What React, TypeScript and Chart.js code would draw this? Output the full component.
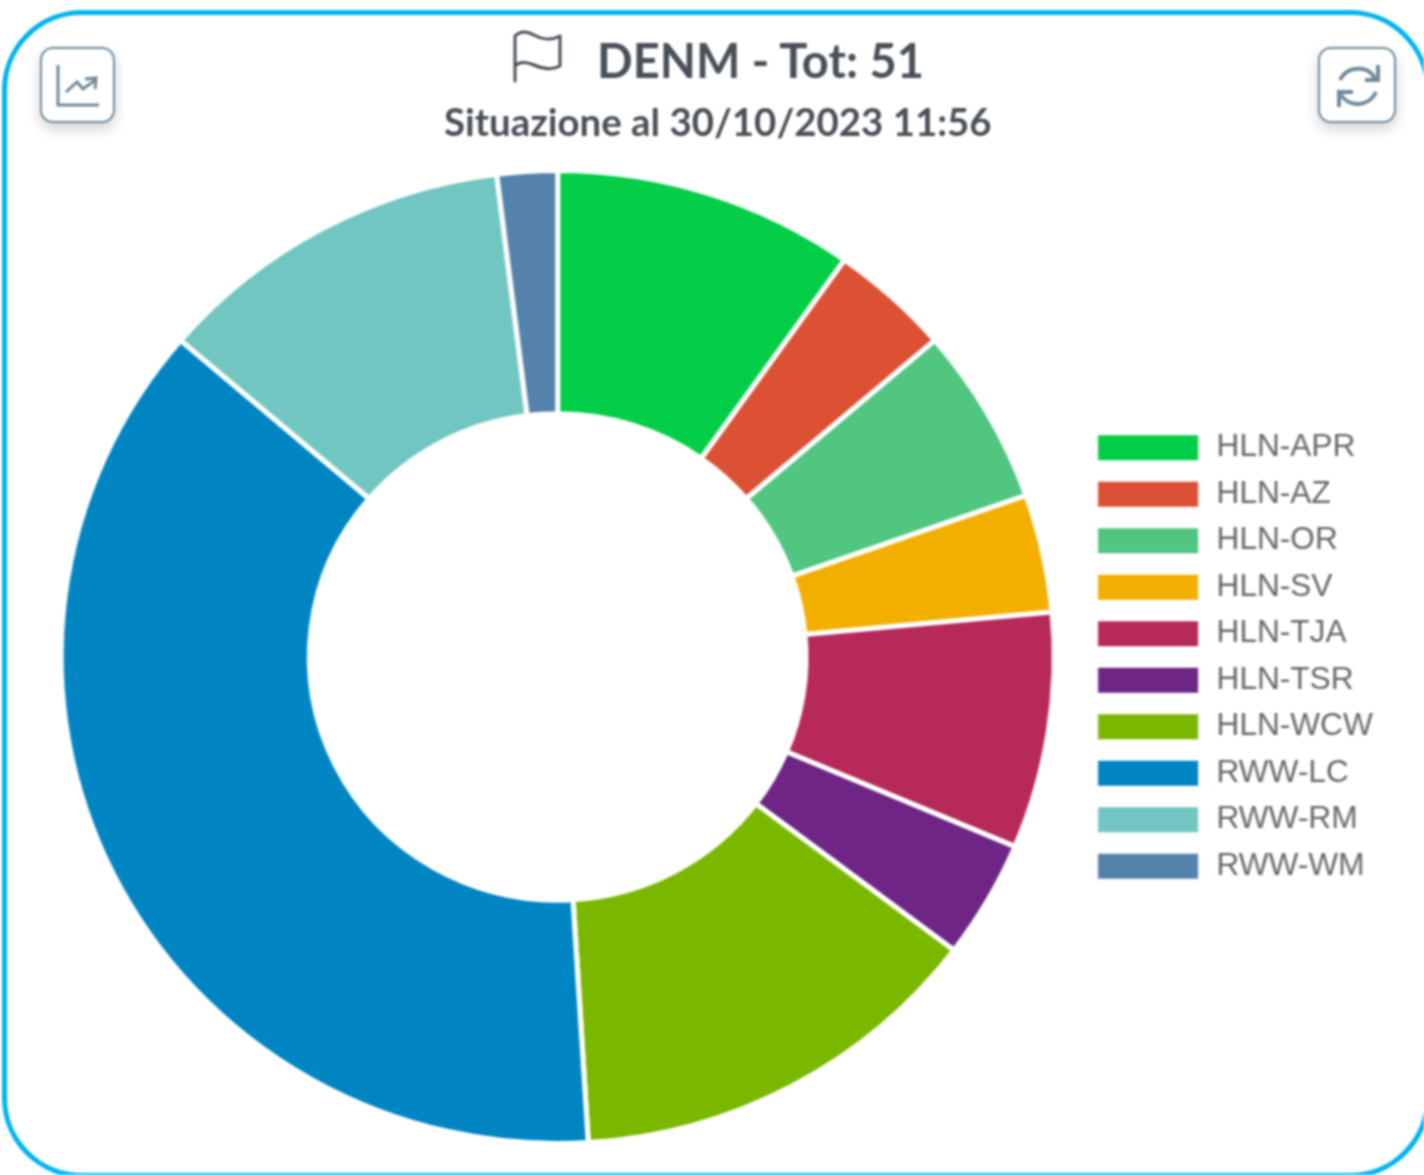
import React, { useEffect, useRef } from "react";
import { Chart, registerables } from "chart.js";

Chart.register(...registerables);

const categories = ["HLN-APR", "HLN-AZ", "HLN-OR", "HLN-SV", "HLN-TJA", "HLN-TSR", "HLN-WCW", "RWW-LC", "RWW-RM", "RWW-WM"];
const counts = [5, 2, 3, 2, 4, 2, 7, 19, 6, 1];
const colors = ["#04CE48", "#DC5034", "#50C680", "#F2AF00", "#B7295A", "#6E2585", "#7AB800", "#0085C3", "#71C6C1", "#5482AB"];
const titleText = "DENM - Tot: 51";
const subtitleText = "Situazione al 30/10/2023 11:56";

const stretch = 1.0207;
const canvasW = 1395;
const canvasH = 1175;

const textCss: React.CSSProperties = {
  position: "absolute",
  fontFamily: "Lato, sans-serif",
  fontWeight: 700,
  color: "#495057",
  whiteSpace: "nowrap",
  lineHeight: 1,
};

const btnCss: React.CSSProperties = {
  position: "absolute",
  top: 47,
  width: 71,
  height: 72,
  border: "2.5px solid #6f8a9b",
  borderRadius: 13,
  background: "#fff",
  boxShadow: "0 6px 14px rgba(0,0,0,0.18)",
};

export default function App() {
  const ref = useRef<HTMLCanvasElement>(null);
  useEffect(() => {
    const chart = new Chart(ref.current!, {
      type: "doughnut",
      data: {
        labels: categories,
        datasets: [{ data: counts, backgroundColor: colors, borderColor: "#fff", borderWidth: 5 }],
      },
      options: {
        responsive: false,
        animation: false,
        cutout: "50%",
        layout: { padding: { left: 35, right: 40, top: 168, bottom: 29 } },
        plugins: {
          tooltip: { enabled: false },
          legend: {
            position: "right",
            labels: {
              boxWidth: 103,
              boxHeight: 30,
              padding: 15.5,
              color: "#666",
              font: { family: "'Liberation Sans', Arial, sans-serif", size: 31 },
            },
          },
        },
      },
    });
    return () => chart.destroy();
  }, []);

  return (
    <div style={{ position: "absolute", left: 0, top: 0, width: 1424, height: 1175, overflow: "hidden", background: "#fff", filter: "blur(0.8px)" }}>
      <div style={{ position: "absolute", left: 2, top: 10, width: 1428, height: 1168, boxSizing: "border-box", border: "5.5px solid #00b4f0", borderRadius: 80 }} />
      <canvas
        ref={ref}
        width={canvasW}
        height={canvasH}
        style={{ position: "absolute", left: 0, top: 0, width: canvasW, height: canvasH, transform: `scaleX(${stretch})`, transformOrigin: "0 0" }}
      />
      <div style={{ ...textCss, left: 597, top: 37, fontSize: 47 }}>{titleText}</div>
      <div style={{ ...textCss, left: 444, top: 102, fontSize: 38.4 }}>{subtitleText}</div>
      <svg style={{ position: "absolute", left: 505, top: 25 }} width="65" height="65" viewBox="505 25 65 65" fill="none" stroke="#495057" strokeWidth="3" strokeLinejoin="round" strokeLinecap="round">
        <path d="M515 81 V36 C520 31 527 31 534 35 C541 39 551 41 560 36 V66 C551 71 541 68 534 65 C527 62 520 61 515 66" />
      </svg>
      <div style={{ ...btnCss, left: 40 }} />
      <div style={{ ...btnCss, left: 1318, width: 74 }} />
      <svg style={{ position: "absolute", left: 0, top: 0 }} width="1424" height="180" fill="none" stroke="#6f8a9b" strokeWidth="3">
        <path d="M58 65 V105 H99" />
        <path d="M66 92 L77 82 L83 89 L95 80" />
        <path d="M85 79 L96 78 L95 89" />
        <path d="M1340 80 A20 20 0 0 1 1375 78" strokeWidth="4" />
        <path d="M1378 65 V80 H1365" strokeWidth="4" />
        <path d="M1376 92 A20 20 0 0 1 1341 95" strokeWidth="4" />
        <path d="M1339 107 V92 H1353" strokeWidth="4" />
      </svg>
    </div>
  );
}
